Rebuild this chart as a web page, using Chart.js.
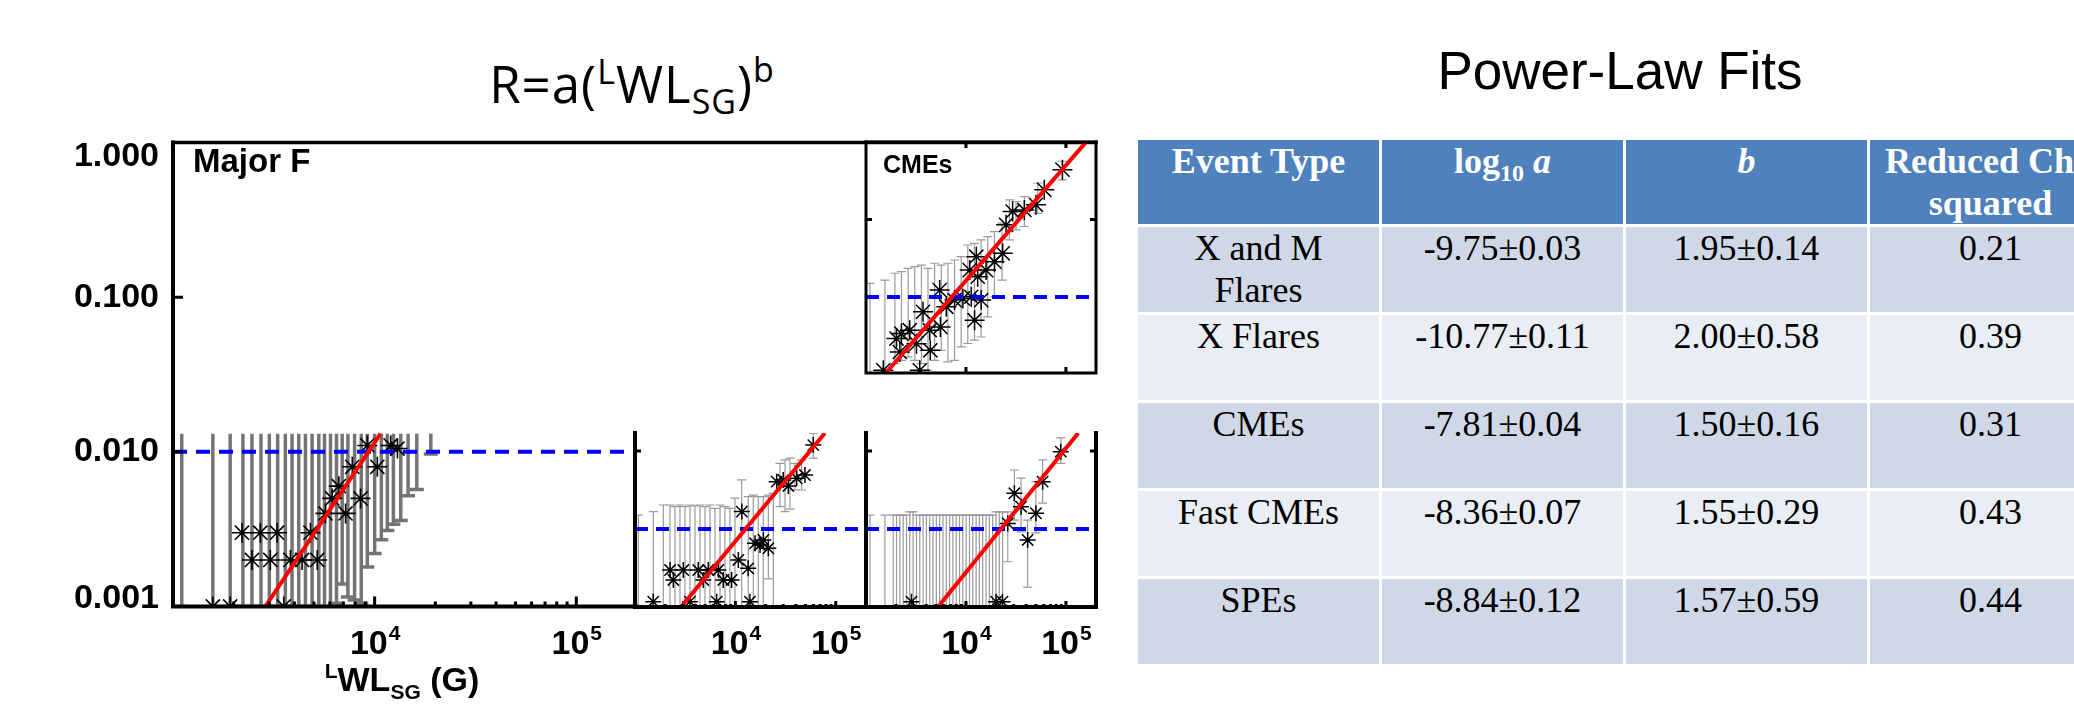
<!DOCTYPE html>
<html>
<head>
<meta charset="utf-8">
<script src="https://cdn.jsdelivr.net/npm/chart.js@4.4.0/dist/chart.umd.min.js"></script>
<style>
  body { margin:0; width:2074px; height:706px; overflow:hidden; background:#fff; position:relative; }
  canvas.panel { position:absolute; left:0; top:0; }
  #eqTitle { position:absolute; left:382px; width:500px; top:58px; text-align:center; font-family:"Open Sans"; font-size:51px; letter-spacing:1px; line-height:1; white-space:nowrap; }
  #eqTitle span { font-size:34px; position:relative; }
  #fitTitle { position:absolute; left:1420px; width:400px; top:44px; text-align:center; font-family:"Liberation Sans"; font-size:53px; line-height:1; white-space:nowrap; }
  .plab { position:absolute; font-family:"Liberation Sans"; font-weight:bold; line-height:1; white-space:nowrap; }
  #xTitle { position:absolute; left:280px; width:244px; top:662px; text-align:center; font-family:"Liberation Sans"; font-weight:bold; font-size:34px; line-height:1; white-space:nowrap; }
  #xTitle span { font-size:21px; position:relative; }
  #fits { position:absolute; left:1135px; top:137px; border-collapse:separate; border-spacing:3px; table-layout:fixed; width:979px; }
  #fits td, #fits th { width:241px; padding:0 12px; vertical-align:top; text-align:center; font-family:"Liberation Serif"; font-size:36px; line-height:42px; box-sizing:border-box; }
  #fits th { background:#4F81BD; color:#fff; font-weight:bold; }
  #fits tr.hd { height:84px; }
  #fits tr.row { height:85px; }
  #fits tr.dark td { background:#D0D8E8; }
  #fits tr.light td { background:#E9EDF4; }
  #fits .sub { font-size:24px; position:relative; top:8px; }
</style>
</head>
<body>
<div id="eqTitle">R=a(<span style="top:-19px">L</span>WL<span style="top:11px">SG</span>)<span style="top:-21px">b</span></div>
<div id="fitTitle">Power-Law Fits</div>

<canvas class="panel" id="majorChart" width="1110" height="706"></canvas>
<canvas class="panel" id="fastChart" width="1110" height="706"></canvas>
<canvas class="panel" id="speChart" width="1110" height="706"></canvas>
<canvas class="panel" id="cmeChart" width="1110" height="706"></canvas>

<div class="plab" style="left:193px;top:144px;font-size:33px">Major F</div>
<div class="plab" style="left:883px;top:152px;font-size:25px">CMEs</div>
<div id="xTitle"><span style="top:-13px">L</span>WL<span style="top:8px">SG</span> (G)</div>

<table id="fits"></table>

<script>
// axis ranges and tick labels
const xRange = [1000, 200000];
const yTickVals = [1, 0.1, 0.01, 0.001];
const yTickText = ['1.000', '0.100', '0.010', '0.001'];
const xTickVals = [10000, 100000];
const xTickExp = ['4', '5'];
const xMinorTicks = [2000, 3000, 4000, 5000, 6000, 7000, 8000, 9000, 20000, 30000, 40000, 50000, 60000, 70000, 80000, 90000];
const threshold = 0.01;

// Major flares panel
const majorPtX = [1576, 1921, 2198, 2463, 2710, 3038, 3281, 3541, 3821, 4365, 4805, 5188, 5705, 6161, 6645, 7174, 7745, 8511, 9197, 10313, 12013, 12970];
const majorPtY = [0.001, 0.001, 0.003, 0.002, 0.003, 0.002, 0.003, 0.001, 0.002, 0.002, 0.003, 0.002, 0.004, 0.005, 0.006, 0.004, 0.008, 0.005, 0.011, 0.008, 0.011, 0.0105];
const majorBarX = [1105, 1576, 1921, 2222, 2463, 2731, 3004, 3304, 3607, 3894, 4204, 4537, 4896, 5286, 5640, 6040, 6470, 6903, 7368, 7953, 8584, 9194, 10000, 10795, 11560, 12386, 13473, 14650, 16180, 18990];
const majorBarLo = [0.001, 0.001, 0.001, 0.001, 0.001, 0.001, 0.001, 0.001, 0.001, 0.001, 0.001, 0.001, 0.001, 0.001, 0.001, 0.001, 0.00105, 0.0014, 0.00115, 0.0011, 0.00105, 0.0018, 0.0022, 0.0027, 0.0031, 0.0034, 0.0036, 0.0052, 0.0057, 0.0097];
const majorBarHi = [0.0131, 0.0131, 0.0131, 0.0131, 0.0131, 0.0131, 0.0131, 0.0131, 0.0131, 0.0131, 0.0131, 0.0131, 0.0131, 0.0131, 0.0131, 0.0131, 0.0131, 0.0131, 0.0131, 0.0131, 0.0131, 0.0131, 0.0131, 0.0131, 0.0131, 0.0131, 0.0131, 0.0131, 0.0131, 0.0131];
const majorFitX = [2870, 10700];
const majorFitY = [0.001, 0.0131];

// Fast CMEs panel
const fastPtX = [1520, 2235, 2410, 3030, 3530, 4270, 4790, 5370, 6510, 6760, 7570, 9180, 10700, 11600, 13400, 13960, 15700, 17600, 19000, 21300, 25800, 30000, 33700, 40800, 49300, 59700];
const fastPtY = [0.00117, 0.00298, 0.00222, 0.00298, 0.00117, 0.00298, 0.00222, 0.00298, 0.00117, 0.00298, 0.00222, 0.00222, 0.00401, 0.0167, 0.00313, 0.00117, 0.00656, 0.00624, 0.00723, 0.00566, 0.0404, 0.0425, 0.0356, 0.0447, 0.0492, 0.119];
const fastBarX = [1080, 1521, 1914, 2233, 2503, 2806, 3145, 3530, 3960, 4440, 4980, 5580, 6260, 7030, 7870, 8830, 9910, 11550, 13440, 15070, 16910, 18970, 21290, 23880, 27800, 31190, 35000, 39270, 45720, 59700];
const fastBarLo = [0.001, 0.001, 0.001, 0.001, 0.001, 0.001, 0.001, 0.001, 0.001, 0.001, 0.001, 0.001, 0.001, 0.001, 0.001, 0.001, 0.001, 0.001, 0.001, 0.001, 0.001, 0.001, 0.0023, 0.001, 0.0193, 0.0167, 0.018, 0.0316, 0.0316, 0.081];
const fastBarHi = [0.0151, 0.0167, 0.0203, 0.0203, 0.0193, 0.0203, 0.0193, 0.0203, 0.0198, 0.0203, 0.0193, 0.0203, 0.0184, 0.0203, 0.0193, 0.0184, 0.0248, 0.0425, 0.026, 0.0272, 0.026, 0.026, 0.0272, 0.0286, 0.0695, 0.0767, 0.081, 0.0695, 0.0767, 0.169];
const fastFitX = [2870, 78000];
const fastFitY = [0.001, 0.17];

// SPEs panel
const spePtX = [2850, 20000, 23200, 26200, 30500, 35600, 41400, 50100, 58500, 88900];
const spePtY = [0.00117, 0.00117, 0.00117, 0.0118, 0.0287, 0.0193, 0.00723, 0.0159, 0.0404, 0.098];
const speBarX = [1096, 1546, 1871, 2020, 2182, 2355, 2543, 2744, 2961, 3198, 3452, 3725, 4020, 4339, 4683, 5054, 5455, 5888, 6354, 6858, 7402, 7989, 8623, 9307, 10045, 10841, 11701, 12629, 13630, 14711, 15878, 17137, 18496, 19963, 21546, 23255, 26200, 30500, 35600, 41400, 50100, 58500, 88900];
const speBarLo = [0.001, 0.001, 0.001, 0.001, 0.001, 0.001, 0.001, 0.001, 0.001, 0.001, 0.001, 0.001, 0.001, 0.001, 0.001, 0.001, 0.001, 0.001, 0.001, 0.001, 0.001, 0.001, 0.001, 0.001, 0.001, 0.001, 0.001, 0.001, 0.001, 0.001, 0.001, 0.001, 0.001, 0.001, 0.001, 0.001, 0.0038, 0.013, 0.0092, 0.0018, 0.0089, 0.0215, 0.0695];
const speBarHi = [0.0151, 0.0151, 0.0151, 0.0151, 0.0151, 0.0151, 0.0151, 0.0166, 0.0166, 0.0151, 0.0151, 0.0151, 0.0151, 0.0151, 0.0151, 0.0151, 0.0151, 0.0151, 0.0151, 0.0151, 0.0151, 0.0151, 0.0151, 0.0151, 0.0151, 0.0151, 0.0151, 0.0151, 0.0151, 0.0151, 0.0151, 0.0151, 0.0151, 0.0166, 0.0166, 0.0166, 0.0166, 0.057, 0.045, 0.013, 0.0404, 0.0767, 0.147];
const speFitX = [5250, 133000];
const speFitY = [0.001, 0.17];

// CMEs inset panel
const cmePtX = [1490, 2020, 2180, 2260, 2740, 3200, 3450, 3720, 4340, 4400, 5460, 5550, 6360, 7690, 9310, 10900, 11300, 12200, 12700, 13100, 14200, 15900, 19300, 23300, 25200, 29300, 38400, 50100, 60700, 92300];
const cmePtY = [0.00114, 0.00292, 0.00196, 0.00339, 0.00374, 0.00251, 0.00114, 0.00646, 0.00374, 0.00206, 0.0123, 0.00413, 0.0075, 0.00915, 0.0096, 0.0223, 0.0101, 0.00504, 0.0332, 0.0183, 0.00915, 0.0223, 0.0286, 0.0367, 0.0854, 0.127, 0.133, 0.155, 0.242, 0.44];
const cmeBarX = [1096, 1546, 1945, 2265, 2640, 3075, 3585, 4170, 4860, 5660, 6600, 7690, 8960, 10430, 12170, 14170, 16510, 19250, 22960, 27220, 31700, 38400, 52300, 92300];
const cmeBarLo = [0.00105, 0.00105, 0.00139, 0.00153, 0.00169, 0.00153, 0.00139, 0.00114, 0.00153, 0.00206, 0.00146, 0.00153, 0.00228, 0.00252, 0.00278, 0.00306, 0.00556, 0.0101, 0.0166, 0.0547, 0.0735, 0.0813, 0.12, 0.325];
const cmeBarHi = [0.015, 0.0166, 0.0203, 0.0213, 0.0235, 0.0247, 0.0259, 0.0235, 0.0273, 0.0259, 0.0273, 0.0301, 0.0332, 0.047, 0.0494, 0.0547, 0.0603, 0.07, 0.0898, 0.179, 0.171, 0.198, 0.296, 0.565];
const cmeFitX = [1610, 158000];
const cmeFitY = [0.00108, 0.99];

// fits table
const eventTypes = ['X and M Flares', 'X Flares', 'CMEs', 'Fast CMEs', 'SPEs'];
const log10A = ['-9.75±0.03', '-10.77±0.11', '-7.81±0.04', '-8.36±0.07', '-8.84±0.12'];
const bExp = ['1.95±0.14', '2.00±0.58', '1.50±0.16', '1.55±0.29', '1.57±0.59'];
const redChi2 = ['0.21', '0.39', '0.31', '0.43', '0.44'];
const tableHead = ['Event Type', 'log<span class="sub">10</span> <i>a</i>', '<i>b</i>', 'Reduced Chi-squared'];

// page layout of the plot boxes (pixels)
const W = 1110, H = 706;
const boxMajor = { l: 173, t: 142.5, r: 637, b: 606.5 };
const boxFast = { l: 635, t: 433, r: 866, b: 607 };
const boxSpe = { l: 866, t: 433, r: 1096, b: 607 };
const boxCme = { l: 866, t: 142, r: 1096, b: 373 };

const LABEL_FONT = 'bold 34px "Liberation Sans"';
const EXP_FONT = 'bold 21px "Liberation Sans"';

function errorBarLayer(bars, st) {
  return {
    id: 'errorBars',
    beforeDatasetsDraw(chart) {
      const { ctx, chartArea: a, scales } = chart;
      ctx.save();
      ctx.beginPath();
      ctx.rect(a.left, a.top, a.right - a.left, a.bottom - a.top);
      ctx.clip();
      ctx.strokeStyle = st.color;
      ctx.lineWidth = st.width;
      bars.x.forEach((v, i) => {
        const px = scales.x.getPixelForValue(v);
        const pLo = scales.y.getPixelForValue(bars.lo[i]);
        const pHi = scales.y.getPixelForValue(bars.hi[i]);
        ctx.beginPath();
        ctx.moveTo(px, pLo);
        ctx.lineTo(px, pHi);
        if (st.capLo) { ctx.moveTo(px - st.cap, pLo); ctx.lineTo(px + st.cap, pLo); }
        if (st.capHi) { ctx.moveTo(px - st.cap, pHi); ctx.lineTo(px + st.cap, pHi); }
        ctx.stroke();
      });
      ctx.restore();
    }
  };
}

function frameLayer(f) {
  return {
    id: 'frame',
    afterDatasetsDraw(chart) {
      const { ctx, chartArea: a, scales: { x, y } } = chart;
      ctx.save();
      ctx.strokeStyle = '#000';
      ctx.fillStyle = '#000';
      ctx.lineCap = 'square';
      ctx.lineWidth = f.lw;
      ctx.beginPath();
      if (f.sides.includes('left')) { ctx.moveTo(a.left, a.top); ctx.lineTo(a.left, a.bottom); }
      if (f.sides.includes('right')) { ctx.moveTo(a.right, a.top); ctx.lineTo(a.right, a.bottom); }
      if (f.sides.includes('bottom')) { ctx.moveTo(a.left, a.bottom); ctx.lineTo(a.right, a.bottom); }
      ctx.stroke();
      if (f.sides.includes('top')) {
        ctx.lineWidth = f.topW || f.lw;
        ctx.beginPath();
        ctx.moveTo(a.left, a.top);
        ctx.lineTo(f.topTo || a.right, a.top);
        ctx.stroke();
      }

      // ticks point inward
      ctx.lineCap = 'butt';
      ctx.lineWidth = f.tickW;
      ctx.beginPath();
      f.yTicks.forEach(v => {
        const py = y.getPixelForValue(v);
        if (f.tickSides.includes('left')) { ctx.moveTo(a.left, py); ctx.lineTo(a.left + f.tickLen, py); }
        if (f.tickSides.includes('right')) { ctx.moveTo(a.right, py); ctx.lineTo(a.right - f.tickLen, py); }
      });
      const xTick = (v, len) => {
        const px = x.getPixelForValue(v);
        if (f.tickSides.includes('bottom')) { ctx.moveTo(px, a.bottom); ctx.lineTo(px, a.bottom - len); }
        if (f.tickSides.includes('top')) { ctx.moveTo(px, a.top); ctx.lineTo(px, a.top + len); }
      };
      xTickVals.forEach(v => xTick(v, f.tickLen));
      if (f.minorLen) xMinorTicks.forEach(v => xTick(v, f.minorLen));
      ctx.stroke();

      if (f.yLabels) {
        ctx.font = LABEL_FONT;
        ctx.textAlign = 'right';
        ctx.textBaseline = 'middle';
        yTickVals.forEach((v, i) => {
          let py = y.getPixelForValue(v);
          py = Math.min(Math.max(py, a.top + 14), a.bottom - 8);
          ctx.fillText(yTickText[i], a.left - 14, py);
        });
      }
      if (f.xLabels) {
        ctx.textAlign = 'left';
        ctx.textBaseline = 'alphabetic';
        const base = a.bottom + 47;
        xTickVals.forEach((v, i) => {
          const px = x.getPixelForValue(v);
          ctx.font = LABEL_FONT;
          const w1 = ctx.measureText('10').width;
          ctx.font = EXP_FONT;
          const w2 = ctx.measureText(xTickExp[i]).width;
          const x0 = px - (w1 + w2) / 2;
          ctx.font = LABEL_FONT;
          ctx.fillText('10', x0, base);
          ctx.font = EXP_FONT;
          ctx.fillText(xTickExp[i], x0 + w1 + 1, base - 14);
        });
      }
      ctx.restore();
    }
  };
}

function toPoints(xs, ys) {
  return xs.map((v, i) => ({ x: v, y: ys[i] }));
}

function makePanel(id, box, yRange, pts, bars, fit, look, frame) {
  return new Chart(document.getElementById(id), {
    type: 'scatter',
    data: {
      datasets: [
        { type: 'line', data: toPoints(fit.x, fit.y), borderColor: '#ff0000', borderWidth: look.fitW,
          pointRadius: 0, clip: 0 },
        { type: 'line', data: toPoints(xRange, [threshold, threshold]), borderColor: '#0000ff', borderWidth: 4,
          borderDash: look.dash, pointRadius: 0, clip: 0 },
        { data: toPoints(pts.x, pts.y), pointStyle: 'star', pointRadius: look.r, pointBorderColor: '#000',
          borderColor: '#000', pointBorderWidth: look.pw, showLine: false, clip: 0 }
      ]
    },
    options: {
      responsive: false,
      animation: false,
      devicePixelRatio: 1,
      events: [],
      layout: { padding: { left: box.l, top: box.t, right: W - box.r, bottom: H - box.b } },
      scales: {
        x: { type: 'logarithmic', min: xRange[0], max: xRange[1], display: false },
        y: { type: 'logarithmic', min: yRange[0], max: yRange[1], display: false }
      },
      plugins: { legend: { display: false }, tooltip: { enabled: false } }
    },
    plugins: [errorBarLayer(bars, look.bar), frameLayer(frame)]
  });
}

const thickBars = { color: '#747474', width: 3.5, cap: 7, capLo: true, capHi: false };
const thinBars = { color: '#9a9a9a', width: 1.2, cap: 4.5, capLo: true, capHi: true };

makePanel('majorChart', boxMajor, [0.001, 1],
  { x: majorPtX, y: majorPtY }, { x: majorBarX, lo: majorBarLo, hi: majorBarHi }, { x: majorFitX, y: majorFitY },
  { r: 10, pw: 1.6, fitW: 4, dash: [14, 9], bar: thickBars },
  { sides: ['left', 'bottom', 'top'], lw: 4, topW: 3.5, topTo: boxCme.r, tickW: 3, tickLen: 10, minorLen: 5,
    tickSides: ['left', 'bottom'], yTicks: [0.1, 0.01], yLabels: true, xLabels: true });

makePanel('fastChart', boxFast, [0.001, 0.17],
  { x: fastPtX, y: fastPtY }, { x: fastBarX, lo: fastBarLo, hi: fastBarHi }, { x: fastFitX, y: fastFitY },
  { r: 8, pw: 1.5, fitW: 4, dash: [13, 8], bar: thinBars },
  { sides: ['left', 'bottom'], lw: 4, tickW: 3, tickLen: 6, minorLen: 3,
    tickSides: ['left', 'bottom'], yTicks: [0.1], yLabels: false, xLabels: true });

makePanel('speChart', boxSpe, [0.001, 0.17],
  { x: spePtX, y: spePtY }, { x: speBarX, lo: speBarLo, hi: speBarHi }, { x: speFitX, y: speFitY },
  { r: 8, pw: 1.5, fitW: 4, dash: [13, 8], bar: thinBars },
  { sides: ['left', 'right', 'bottom'], lw: 4, tickW: 3, tickLen: 6, minorLen: 3,
    tickSides: ['left', 'right', 'bottom'], yTicks: [0.1], yLabels: false, xLabels: true });

makePanel('cmeChart', boxCme, [0.00105, 1],
  { x: cmePtX, y: cmePtY }, { x: cmeBarX, lo: cmeBarLo, hi: cmeBarHi }, { x: cmeFitX, y: cmeFitY },
  { r: 10, pw: 1.5, fitW: 4, dash: [13, 8], bar: thinBars },
  { sides: ['left', 'right', 'bottom', 'top'], lw: 3, tickW: 3, tickLen: 6, minorLen: 0,
    tickSides: ['left', 'right', 'bottom', 'top'], yTicks: [0.1], yLabels: false, xLabels: false });

// build the table from the arrays
const table = document.getElementById('fits');
let html = '<tr class="hd">' + tableHead.map(h => '<th>' + h + '</th>').join('') + '</tr>';
eventTypes.forEach((ev, i) => {
  html += '<tr class="row ' + (i % 2 === 0 ? 'dark' : 'light') + '">' +
    '<td>' + ev + '</td><td>' + log10A[i] + '</td><td>' + bExp[i] + '</td><td>' + redChi2[i] + '</td></tr>';
});
table.innerHTML = html;
</script>
</body>
</html>
